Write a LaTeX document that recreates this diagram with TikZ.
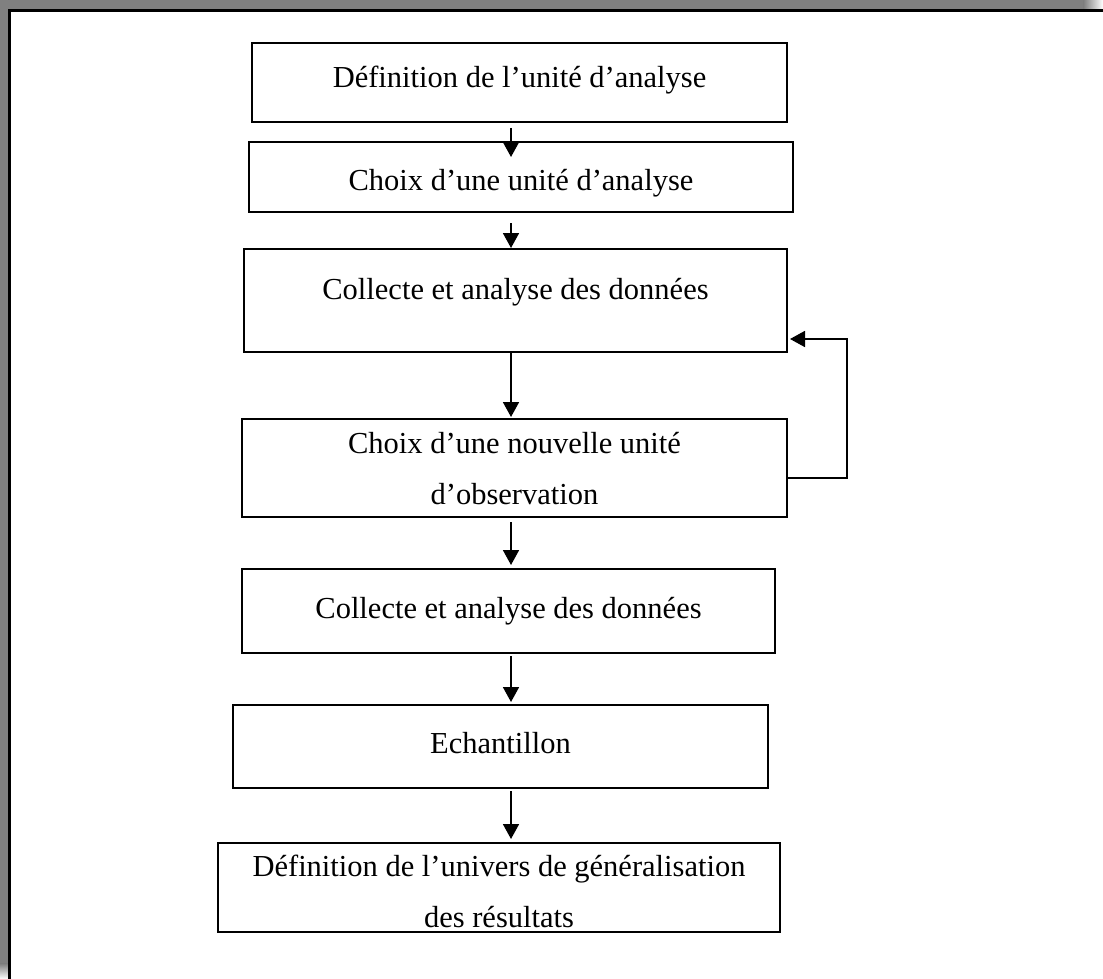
\documentclass[tikz,border=0pt]{standalone}
\usepackage{fontspec}
\setmainfont{Liberation Serif}
\usetikzlibrary{arrows.meta}
\definecolor{framegrey}{RGB}{128,128,128}
\begin{document}
\begin{tikzpicture}[x=1pt,y=-1pt,
  stepbox/.style={draw=black, line width=2pt, inner sep=0pt},
  boxtext/.style={font=\fontsize{30.5}{51}\selectfont, align=center, inner sep=0pt},
  flow/.style={draw=black, line width=1.8pt, -{Triangle[length=15pt,width=16pt]}}
]
\useasboundingbox (0,0) rectangle (1103,979);

% page frame: grey shadow band with a black rule
\fill[framegrey] (0,0) rectangle (1084,9.5);
\shade[left color=framegrey, right color=white] (1083.5,0) rectangle (1103,9.5);
\fill[framegrey] (0,9) rectangle (8.5,964);
\shade[top color=framegrey, bottom color=white] (0,963.5) rectangle (8.5,979);
\draw[line width=3pt] (9.8,979) -- (9.8,10.8) -- (1103,10.8);

% boxes
\node[stepbox, minimum width=535pt, minimum height=79pt] (b1) at (519.5,82.5) {};
\node[stepbox, minimum width=544pt, minimum height=70pt] (b2) at (521,177) {};
\node[stepbox, minimum width=543pt, minimum height=103pt] (b3) at (515.5,300.5) {};
\node[stepbox, minimum width=545pt, minimum height=98pt] (b4) at (514.5,468) {};
\node[stepbox, minimum width=533pt, minimum height=84pt] (b5) at (508.5,611) {};
\node[stepbox, minimum width=535pt, minimum height=83pt] (b6) at (500.5,746.5) {};
\node[stepbox, minimum width=562pt, minimum height=89pt] (b7) at (499,887.5) {};

% texts
\node[boxtext, anchor=base] (t1) at (519.5,88) {Définition de l’unité d’analyse};
\node[boxtext, anchor=base] (t2) at (521,190) {Choix d’une unité d’analyse};
\node[boxtext, anchor=base] (t3) at (515.5,299) {Collecte et analyse des données};
\node[boxtext, anchor=center] (t4) at (514.5,469) {Choix d’une nouvelle unité\\d’observation};
\node[boxtext, anchor=base] (t5) at (508.5,618) {Collecte et analyse des données};
\node[boxtext, anchor=base] (t6) at (500.5,753) {Echantillon};
\node[boxtext, anchor=center] (t7) at (499,891) {Définition de l’univers de généralisation\\des résultats};

% connectors
\coordinate (axis) at (511,0);
\coordinate (loopx) at (847,0);
\draw[flow] ([yshift=-5pt]b1.south -| axis) -- ([yshift=-16pt]b2.north -| axis);
\draw[flow] ([yshift=-10pt]b2.south -| axis) -- ([yshift=-0pt]b3.north -| axis);
\draw[flow] (b3.south -| axis) -- ([yshift=1pt]b4.north -| axis);
\draw[flow] ([yshift=-4pt]b4.south -| axis) -- ([yshift=3pt]b5.north -| axis);
\draw[flow] ([yshift=-2pt]b5.south -| axis) -- ([yshift=2pt]b6.north -| axis);
\draw[flow] ([yshift=-2pt]b6.south -| axis) -- ([yshift=3pt]b7.north -| axis);

% feedback loop from the new observation unit back to data collection
\coordinate (fbout) at ([yshift=-10pt]b4.east);
\coordinate (fbin) at ([yshift=-38.5pt,xshift=2pt]b3.east);
\draw[flow] (fbout) -| (loopx |- fbin) -- (fbin);
\end{tikzpicture}
\end{document}
